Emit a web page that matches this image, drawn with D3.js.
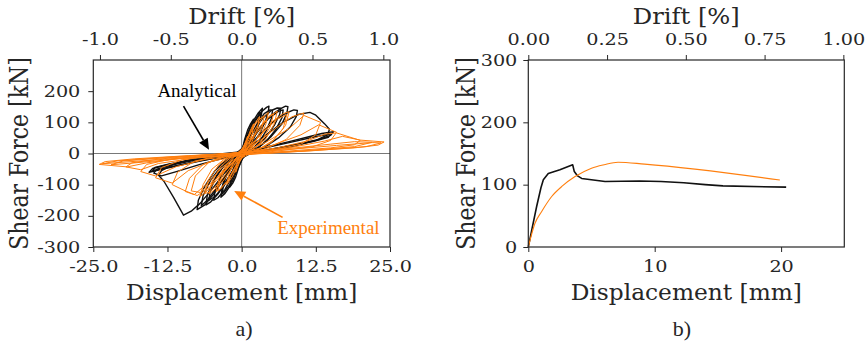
<!DOCTYPE html>
<html><head><meta charset="utf-8">
<script src="https://cdn.jsdelivr.net/npm/d3@7"></script>
<style>html,body{margin:0;padding:0;background:#fff}</style>
</head><body>
<svg id="fig" width="865" height="342"></svg>
<script>
// ---- Panel a): cyclic shear force vs. displacement ----
const dispTicksA = [-25, -12.5, 0, 12.5, 25];
const forceTicksA = [-300, -200, -100, 0, 100, 200];
const driftTicksA = [-1, -0.5, 0, 0.5, 1];

// Analytical hysteresis, one array of [displacement mm, force kN] per cycle
const analyticalLoops = [
  [[0,0],[0.5,45],[1,75],[1.5,95],[2,110],[1.7,70],[1.0,25],[0.3,-5],[-0.5,-45],[-1,-75],[-1.5,-95],[-2,-108],[-1.7,-70],[-1,-25],[-0.3,5],[0,10]],
  [[0,10],[0.8,55],[1.8,100],[2.8,130],[3.5,145],[3.3,122],[3.0,134],[2.5,80],[1.5,30],[0.3,-10],[-0.8,-55],[-1.8,-100],[-2.8,-128],[-3.5,-140],[-3.2,-100],[-2.2,-45],[-1,-5],[0,12]],
  [[0,5],[0.8,50],[1.8,95],[2.8,122],[3.3,132],[3.0,100],[2.2,55],[1.2,15],[0,-10],[-1,-55],[-2,-100],[-3,-125],[-3.3,-130],[-3,-95],[-2,-40],[-0.8,-5],[0,8]],
  [[0,12],[1,50],[2.2,100],[3.4,135],[4.2,148],[4.6,152],[4.5,135],[4.1,110],[3.2,70],[2,30],[0.8,0],[-0.5,-30],[-1.5,-70],[-2.8,-115],[-4,-142],[-4.7,-150],[-4.5,-120],[-3.5,-70],[-2,-25],[-0.8,0]],
  [[0,8],[1.2,45],[2.5,92],[3.8,128],[4.8,140],[5.2,138],[5,112],[4.2,75],[3,38],[1.5,8],[0,-15],[-1.5,-55],[-3,-105],[-4.5,-138],[-5.5,-150],[-5.3,-118],[-4.2,-70],[-2.5,-25],[-1,0]],
  [[-0.8,0],[0.5,25],[2,70],[3.5,112],[5,138],[6,146],[6.6,145],[6.4,125],[5.5,90],[4,50],[2.2,18],[0.5,-8],[-1,-40],[-2.5,-85],[-4,-130],[-5.2,-155],[-6,-165],[-5.8,-135],[-4.8,-90],[-3.2,-45],[-1.5,-10],[0,5]],
  [[-1,0],[1,28],[2.8,72],[4.5,112],[6.2,135],[7,140],[6.8,115],[5.8,78],[4.2,40],[2.2,10],[0,-12],[-2,-50],[-4,-105],[-5.8,-150],[-6.8,-168],[-6.5,-135],[-5.2,-85],[-3.2,-35],[-1.2,-5],[0,3]],
  [[0,5],[1.5,35],[3,80],[4.8,120],[6.5,143],[7.4,152],[7.8,150],[7.6,128],[6.8,95],[5,55],[3,22],[1,0],[-1,-30],[-2.8,-75],[-4.5,-125],[-6.2,-165],[-7.5,-180],[-7.3,-150],[-6.2,-105],[-4.5,-55],[-2.5,-18],[-0.5,0]],
  [[-0.5,0],[1.5,30],[3.5,70],[5.5,105],[7.5,130],[8.8,140],[9.4,138],[9.2,118],[8.2,85],[6.2,50],[4,22],[1.5,0],[-1,-25],[-3,-65],[-5,-115],[-7,-160],[-8.5,-185],[-9.8,-198],[-11.5,-140],[-13.1,-89],[-14,-70],[-13.5,-55],[-11.5,-35],[-8,-15],[-4,-2],[0,6]],
  [[0,6],[2,30],[4.5,65],[7,100],[9.5,125],[11.5,132],[12.5,123],[14,95],[14.8,78],[14.5,60],[12.5,42],[9,25],[5,10],[1,-2],[-3,-15],[-7,-35],[-11,-58],[-13.5,-72],[-14.8,-63],[-14.3,-50],[-12,-38],[-8,-22],[-4,-8],[0,4]],
  [[0,4],[4,20],[8,38],[11,52],[13.5,64],[15.5,70],[15,58],[13,45],[9,28],[5,14],[1,2],[-3,-10],[-7,-24],[-11,-40],[-13.8,-52],[-15.6,-60],[-15,-48],[-12.5,-36],[-8,-20],[-4,-7],[0,3]],
  [[0,3],[4,18],[8,35],[12,52],[15,63],[14.6,52],[12,38],[8,24],[4,11],[0,0],[-4,-13],[-8,-27],[-12,-43],[-15,-55],[-14.6,-45],[-12,-33],[-8,-19],[-4,-6],[0,2]]
];

// Experimental hysteresis, one array per cycle
const experimentalLoops = [
  [[0,0],[0.4,25],[0.8,45],[1,55],[0.8,30],[0.4,5],[0,-8],[-0.4,-30],[-0.8,-50],[-1,-60],[-0.8,-35],[-0.4,-8],[0,5]],
  [[0,5],[0.8,40],[1.5,75],[2,95],[1.8,65],[1.2,25],[0.3,-5],[-0.6,-35],[-1.5,-72],[-2.5,-100],[-2.2,-70],[-1.4,-30],[-0.4,0]],
  [[-0.4,0],[0.8,40],[2,90],[3,118],[2.7,85],[1.8,40],[0.5,0],[-1,-40],[-2.5,-90],[-4,-120],[-3.6,-85],[-2.5,-40],[-1,-5]],
  [[0,3],[1,45],[2.2,92],[3.3,115],[3.8,120],[3.4,80],[2.2,35],[0.8,2],[-0.8,-35],[-2.2,-85],[-3.6,-115],[-4.3,-122],[-3.8,-80],[-2.6,-35],[-1,-3]],
  [[-1,-5],[0.5,20],[2,70],[3.5,115],[4.5,132],[4.1,95],[3,45],[1,5],[-1,-30],[-3,-85],[-4.8,-120],[-5.5,-130],[-5,-90],[-3.5,-40],[-1.5,-8]],
  [[-1,-3],[1,30],[3,85],[4.8,122],[5.4,128],[4.8,85],[3.2,35],[1,2],[-1.5,-35],[-3.8,-95],[-5.5,-125],[-6.2,-128],[-5.6,-85],[-3.8,-35],[-1.5,-5]],
  [[-1.5,-8],[0.5,15],[2.5,65],[4.5,115],[6,136],[5.5,95],[4,45],[1.5,8],[-1,-20],[-3.5,-70],[-5.8,-120],[-7,-138],[-6.5,-100],[-5,-50],[-2.5,-12]],
  [[-1.5,-5],[1,15],[3.5,65],[6,110],[7.6,125],[7,80],[5,35],[2,5],[-1.5,-28],[-4.5,-85],[-7,-125],[-8.5,-120],[-7.8,-72],[-5.5,-28],[-2,-5]],
  [[-2.5,-12],[0,5],[2.5,45],[5,100],[7,128],[8,134],[7.4,90],[5.5,45],[3,15],[0,-5],[-3,-40],[-6,-100],[-8,-132],[-9.5,-122],[-8.8,-80],[-6.5,-35],[-3,-8]],
  [[-3,-8],[0,6],[3,40],[6,85],[8.5,118],[10.5,130],[9.8,90],[7.5,45],[4,15],[0,-5],[-3,-50],[-5.5,-110],[-7.5,-135],[-9.5,-120],[-11.7,-100],[-10.8,-60],[-8,-25],[-4,-8]],
  [[-4,-8],[0,5],[4,35],[8,80],[10.5,122],[13.3,100],[12.5,60],[10,30],[5,10],[0,-5],[-5,-25],[-9,-55],[-11.7,-95],[-14.5,-78],[-13.5,-45],[-10,-20],[-5,-6]],
  [[-5,-6],[0,4],[5,25],[10,60],[13,92],[16,68],[15,42],[12,22],[6,8],[0,-4],[-6,-18],[-11,-42],[-14.5,-72],[-17,-58],[-16,-35],[-12,-18],[-6,-6]],
  [[-6,-6],[0,3],[6,18],[11,40],[14,62],[16,66],[20,42],[19,28],[15,18],[8,8],[0,-3],[-8,-15],[-14,-32],[-17,-52],[-19.5,-43],[-18.5,-30],[-14,-18],[-7,-6]],
  [[-7,-6],[0,3],[8,18],[14,40],[17,55],[20,43],[24,37],[23,27],[19,18],[10,7],[0,-4],[-10,-15],[-16,-30],[-19.3,-43],[-24,-35],[-23,-26],[-18,-17],[-9,-7],[0,2]],
  [[0,2],[8,13],[16,26],[22,35],[23.5,34],[21,22],[12,9],[0,-3],[-12,-17],[-20,-28],[-23.5,-33],[-21,-24],[-12,-11],[0,2]],
  [[-2,-5],[0,1],[8,16],[15,30],[19,38],[22,36],[19,22],[10,8],[0,-3],[-10,-16],[-18,-30],[-22,-36],[-20,-24],[-10,-10],[0,2]]
];

// ---- Panel b): monotonic (pushover) response ----
const dispTicksB = [0, 10, 20];
const forceTicksB = [0, 100, 200, 300];
const driftTicksB = [0, 0.25, 0.5, 0.75, 1];
const pushoverAnalytical = [[0,0],[0.3,30],[0.66,65],[1.0,95],[1.19,108],[1.58,118],[2.5,124],[3.51,132],[3.64,121],[3.9,114],[4.22,110],[6.07,105],[8.8,106],[10.5,105],[12.3,103],[14,100],[15.4,98],[20.4,96]];
const pushoverExperimental = [[0,0],[0.53,38],[1.06,57],[1.85,81],[2.7,98],[3.7,113],[5.0,126.5],[6.0,132],[7.1,136],[9.2,133],[19.9,107.5]];

const svg = d3.select('#fig');
const INK = '#262626', ORANGE = '#ff7f0e';
const TICK_FONT = 'DejaVu Serif', NOTE_FONT = 'Liberation Serif';
const TICK_STRETCH = 1.2;

const hyphen = f => v => f(v).replace('\u2212', '-');

function axisText(g) {
  g.select('.domain').remove();
  g.selectAll('.tick line').attr('stroke', INK).attr('stroke-width', 1);
  g.attr('font-family', TICK_FONT).attr('font-size', 16);
  g.selectAll('.tick text').attr('fill', INK).attr('transform', `scale(${TICK_STRETCH},1)`);
}

function panel(cfg) {
  const g = svg.append('g');
  const x = d3.scaleLinear().domain(cfg.xDomain).range([cfg.left, cfg.right]);
  const y = d3.scaleLinear().domain(cfg.yDomain).range([cfg.bottom, cfg.top]);
  const drift = d3.scaleLinear().domain(cfg.driftDomain).range([cfg.left, cfg.right]);

  const bx = g.append('g').attr('transform', `translate(0,${cfg.bottom})`)
    .call(d3.axisBottom(x).tickValues(cfg.xTicks).tickFormat(hyphen(cfg.xFmt)).tickSize(5).tickPadding(9));
  axisText(bx);
  const tx = g.append('g').attr('transform', `translate(0,${cfg.top})`)
    .call(d3.axisTop(drift).tickValues(cfg.driftTicks).tickFormat(hyphen(cfg.driftFmt)).tickSize(5).tickPadding(10));
  axisText(tx);
  const ly = g.append('g').attr('transform', `translate(${cfg.left},0)`)
    .call(d3.axisLeft(y).tickValues(cfg.yTicks).tickFormat(hyphen(d3.format('d'))).tickSize(5).tickPadding(8));
  axisText(ly);
  ly.selectAll('.tick text').attr('x', -cfg.yLabelGap / TICK_STRETCH);

  const cx = (cfg.left + cfg.right) / 2;
  g.append('text').attr('transform', `translate(${cx},24) scale(1.1,1)`)
    .attr('text-anchor', 'middle').attr('font-family', TICK_FONT).attr('font-size', 22).attr('fill', INK)
    .text('Drift [%]');
  g.append('text').attr('transform', `translate(${cx},300) scale(1.06,1)`)
    .attr('text-anchor', 'middle').attr('font-family', TICK_FONT).attr('font-size', 22).attr('fill', INK)
    .text('Displacement [mm]');
  g.append('text').attr('transform', `translate(${cfg.yTitleX},${(cfg.top + cfg.bottom) / 2}) rotate(-90) scale(1,1.2)`)
    .attr('text-anchor', 'middle').attr('font-family', TICK_FONT).attr('font-size', 22).attr('fill', INK)
    .text('Shear Force [kN]');
  g.append('text').attr('x', cfg.tagX).attr('y', 336)
    .attr('text-anchor', 'middle').attr('font-family', NOTE_FONT).attr('font-size', 22).attr('fill', INK)
    .text(cfg.tag);

  return {g, x, y};
}

const line = (x, y) => d3.line().x(d => x(d[0])).y(d => y(d[1]));

// Panel a
const A = panel({
  left: 93.3, right: 390, top: 60, bottom: 247,
  xDomain: [-25, 25], yDomain: [-300, 300], driftDomain: [-1.047, 1.047],
  xTicks: dispTicksA, yTicks: forceTicksA, driftTicks: driftTicksA,
  xFmt: d3.format('.1f'), driftFmt: d3.format('.1f'),
  yLabelGap: 13, yTitleX: 28, tag: 'a)', tagX: 244
});
A.g.append('line').attr('x1', A.x(0)).attr('x2', A.x(0)).attr('y1', A.y(300)).attr('y2', A.y(-300))
  .attr('stroke', '#555').attr('stroke-width', 0.8);
A.g.append('line').attr('x1', A.x(-25)).attr('x2', A.x(25)).attr('y1', A.y(0)).attr('y2', A.y(0))
  .attr('stroke', '#555').attr('stroke-width', 0.8);
const lineA = line(A.x, A.y);
A.g.append('g').selectAll('path').data(analyticalLoops).join('path')
  .attr('d', lineA).attr('fill', 'none').attr('stroke', '#111').attr('stroke-width', 1.4).attr('stroke-linejoin', 'round');
A.g.append('g').selectAll('path').data(experimentalLoops).join('path')
  .attr('d', lineA).attr('fill', 'none').attr('stroke', ORANGE).attr('stroke-width', 1).attr('stroke-linejoin', 'round');
A.g.append('rect').attr('x', 93.3).attr('y', 60).attr('width', 390 - 93.3).attr('height', 187)
  .attr('fill', 'none').attr('stroke', INK).attr('stroke-width', 1.2);

// Callout arrows, positioned in data units
function callout(g, x, y, label, at, tail, tip, color) {
  const x0 = x(tail[0]), y0 = y(tail[1]), x1 = x(tip[0]), y1 = y(tip[1]);
  const ang = Math.atan2(y1 - y0, x1 - x0), len = 11, hw = 5;
  const bxp = x1 - len * Math.cos(ang), byp = y1 - len * Math.sin(ang);
  g.append('line').attr('x1', x0).attr('y1', y0).attr('x2', bxp).attr('y2', byp)
    .attr('stroke', color).attr('stroke-width', 1.6);
  g.append('path').attr('d', `M${x1},${y1}L${bxp + hw * Math.sin(ang)},${byp - hw * Math.cos(ang)}L${bxp - hw * Math.sin(ang)},${byp + hw * Math.cos(ang)}Z`)
    .attr('fill', color);
  g.append('text').attr('x', x(at[0])).attr('y', y(at[1])).attr('font-family', NOTE_FONT)
    .attr('font-size', 19).attr('fill', color).text(label);
}
callout(A.g, A.x, A.y, 'Analytical', [-14.2, 182], [-9.8, 152], [-5.5, 12], '#000');
callout(A.g, A.x, A.y, 'Experimental', [6.0, -259], [6.9, -205], [-1.26, -120], ORANGE);

// Panel b
const B = panel({
  left: 528.3, right: 844.3, top: 60, bottom: 247,
  xDomain: [0, 25], yDomain: [0, 300], driftDomain: [0, 1.003],
  xTicks: dispTicksB, yTicks: forceTicksB, driftTicks: driftTicksB,
  xFmt: d3.format('d'), driftFmt: d3.format('.2f'),
  yLabelGap: 11, yTitleX: 475, tag: 'b)', tagX: 682
});
const lineB = line(B.x, B.y);
B.g.append('path').datum(pushoverAnalytical).attr('d', lineB)
  .attr('fill', 'none').attr('stroke', '#111').attr('stroke-width', 1.6).attr('stroke-linejoin', 'round');
B.g.append('path').datum(pushoverExperimental).attr('d', d3.line().curve(d3.curveMonotoneX).x(d => B.x(d[0])).y(d => B.y(d[1])))
  .attr('fill', 'none').attr('stroke', ORANGE).attr('stroke-width', 1.1);
B.g.append('rect').attr('x', 528.3).attr('y', 60).attr('width', 844.3 - 528.3).attr('height', 187)
  .attr('fill', 'none').attr('stroke', INK).attr('stroke-width', 1.2);
</script></body></html>
